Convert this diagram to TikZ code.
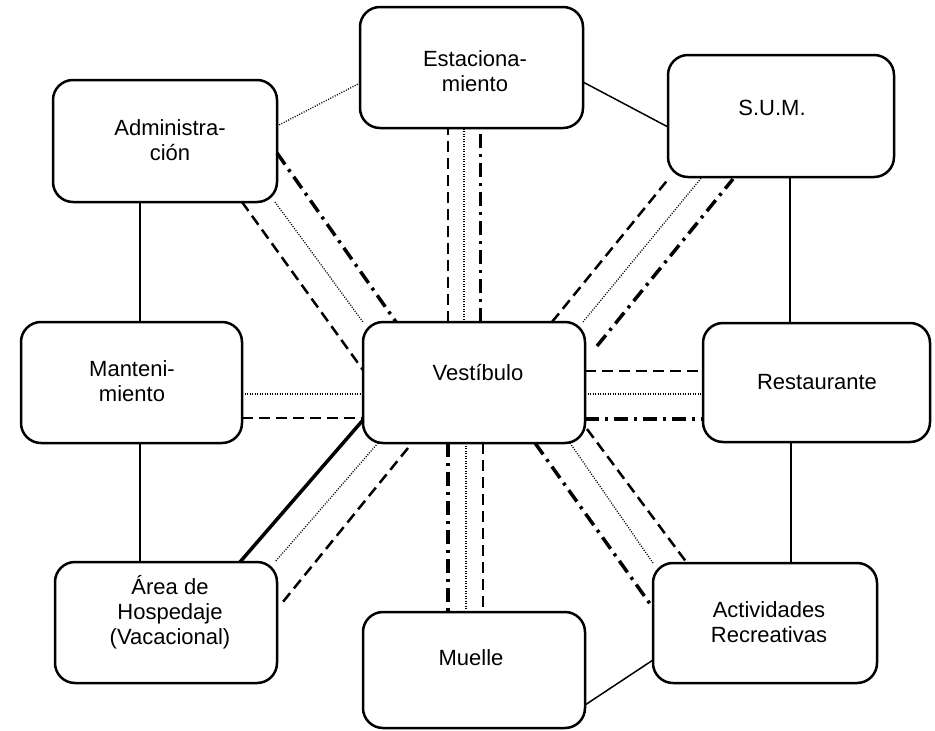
\documentclass[tikz,border=0pt]{standalone}
\usepackage{fontspec}
\setmainfont{Liberation Sans}
\usetikzlibrary{calc}
\begin{document}
\begin{tikzpicture}[x=1pt,y=-1pt,
  box/.style={draw, line width=2.5pt, rounded corners=20pt, outer sep=0pt, inner sep=0pt},
  lbl/.style={align=center, font=\fontsize{22}{25}\selectfont, inner sep=0pt},
  solidln/.style={line width=1.5pt},
  thickln/.style={line width=3.5pt},
  dashln/.style={line width=2.5pt, dash pattern=on 11pt off 6pt},
  dotln/.style={line width=1.3pt, dash pattern=on 1pt off 1.5pt},
  dashdotln/.style={line width=3.5pt, dash pattern=on 14pt off 6pt on 3pt off 6pt}]
\useasboundingbox (0,0) rectangle (935,731);

% boxes
\node[box, minimum width=223pt, minimum height=121pt] (est) at (471.5,67.5) {};
\node[box, minimum width=226pt, minimum height=122pt] (sum) at (781,116) {};
\node[box, minimum width=224pt, minimum height=122pt] (adm) at (165,141) {};
\node[box, minimum width=221pt, minimum height=121pt] (man) at (131.5,382.5) {};
\node[box, minimum width=222pt, minimum height=121pt] (ves) at (474,382.5) {};
\node[box, minimum width=227pt, minimum height=119pt] (res) at (816.5,382.5) {};
\node[box, minimum width=222pt, minimum height=121pt] (are) at (166,622.5) {};
\node[box, minimum width=222pt, minimum height=116pt] (mue) at (474,670) {};
\node[box, minimum width=224pt, minimum height=120pt] (act) at (765,623) {};

% labels
\node[lbl] (estt) at (475,71) {Estaciona-\\miento};
\node[lbl] (admt) at (170,140) {Administra-\\ción};
\node[lbl] (sumt) at (772,108) {S.U.M.};
\node[lbl] (mant) at (132,381) {Manteni-\\miento};
\node[lbl] (vest) at (478,373) {Vestíbulo};
\node[lbl] (rest) at (817,382) {Restaurante};
\node[lbl] (aret) at (170,612) {Área de\\Hospedaje\\(Vacacional)};
\node[lbl] (muet) at (471,658) {Muelle};
\node[lbl] (actt) at (769,622) {Actividades\\Recreativas};

% outer ring
\draw[dotln] ($(adm.east)+(0,-15)$) -- ($(est.west)+(0,15.5)$);
\draw[solidln] ($(est.east)+(0,14.5)$) -- ($(sum.west)+(0,11)$);
\draw[solidln] ($(adm.south)+(-25,0)$) -- ($(man.north)+(8.5,0)$);
\draw[solidln] ($(man.south)+(8.5,0)$) -- ($(are.north)+(-26,0)$);
\draw[solidln] ($(sum.south)+(9,0)$) -- ($(res.north)+(-26.5,0)$);
\draw[solidln] ($(res.south)+(-25.5,0)$) -- ($(act.north)+(26,0)$);
\draw[solidln] ($(mue.east)+(0,35)$) -- ($(act.west)+(0,37)$);

% vestibulo - estacionamiento
\draw[dashln] ($(ves.north)+(-26,0)$) -- ($(est.south)+(-23.5,0)$);
\draw[dotln] ($(ves.north)+(-10,0)$) -- ($(est.south)+(-7.5,0)$);
\draw[dashdotln] ($(ves.north)+(6.5,0)$) -- ($(est.south)+(9,0)$);
% vestibulo - muelle
\draw[dashdotln] ($(ves.south)+(-26,0)$) -- ($(mue.north)+(-26,0)$);
\draw[dotln] ($(ves.south)+(-8,0)$) -- ($(mue.north)+(-8,0)$);
\draw[dashln] ($(ves.south)+(9,0)$) -- ($(mue.north)+(9,0)$);
% vestibulo - restaurante
\draw[dashln] ($(ves.east)+(0,-11.5)$) -- ($(res.west)+(0,-11.5)$);
\draw[dotln] ($(ves.east)+(0,11.5)$) -- ($(res.west)+(0,11.5)$);
\draw[dashdotln] ($(ves.east)+(0,36.5)$) -- ($(res.west)+(0,36.5)$);
% vestibulo - mantenimiento
\draw[dotln] ($(man.east)+(0,11.5)$) -- ($(ves.west)+(0,11.5)$);
\draw[dashln] ($(man.east)+(0,35.5)$) -- ($(ves.west)+(0,35.5)$);
% vestibulo - administracion
\draw[dashln] ($(adm.south)+(77,0)$) -- ($(ves.west)+(0,-12.5)$);
\draw[dotln] ($(adm.south east)+(-2,0)$) -- (ves.north west);
\draw[dashdotln] ($(adm.east)+(0,12)$) -- ($(ves.north west)+(33,0)$);
% vestibulo - s.u.m.
\draw[dashln] ($(ves.north)+(78,0)$) -- ($(sum.south west)+(2,0)$);
\draw[dotln] ($(ves.north east)+(-2,0)$) -- ($(sum.south west)+(34,0)$);
\draw[dashdotln] ($(ves.east)+(12,-36.5)$) -- ($(sum.south)+(-48,2)$);
% vestibulo - actividades
\draw[dashdotln] ($(ves.south)+(61,0)$) -- ($(act.west)+(0,-15)$);
\draw[dotln] ($(ves.south east)+(-15,0)$) -- (act.north west);
\draw[dashln] ($(ves.south east)+(2,-14)$) -- ($(act.north west)+(34,0)$);
% vestibulo - area de hospedaje
\draw[thickln] ($(ves.west)+(0,37.5)$) -- ($(are.north)+(74,0)$);
\draw[dotln] ($(ves.south west)+(15,0)$) -- ($(are.north east)+(-2,0)$);
\draw[dashln] ($(ves.south west)+(45,5)$) -- ($(are.east)+(3,-17)$);
\end{tikzpicture}
\end{document}
